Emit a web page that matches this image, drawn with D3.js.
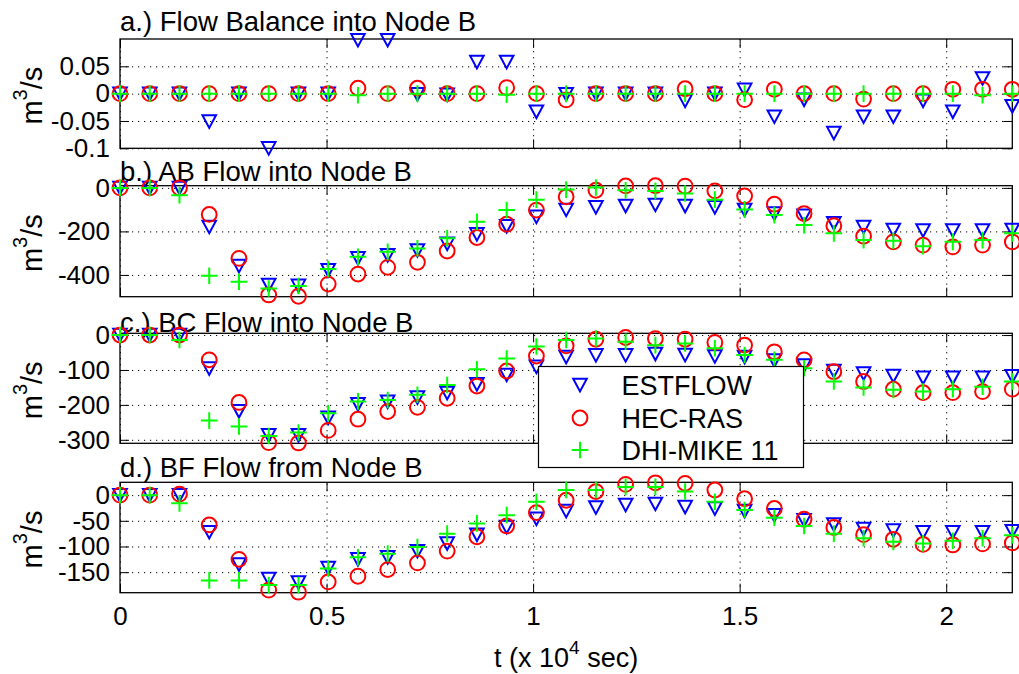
<!DOCTYPE html>
<html>
<head>
<meta charset="utf-8">
<script src="https://cdn.jsdelivr.net/npm/d3@7"></script>
<style>
  html, body { margin: 0; padding: 0; background: #fff; }
  svg { display: block; font-family: "Liberation Sans", Arial, Helvetica, sans-serif; }
</style>
</head>
<body>
<svg id="chart" width="1019" height="674"></svg>
<script>
// Sample times, in units of 10^4 s (one sample every 720 s)
const time = [0, 0.072, 0.144, 0.216, 0.288, 0.36, 0.432, 0.504, 0.576, 0.648, 0.72,
  0.792, 0.864, 0.936, 1.008, 1.08, 1.152, 1.224, 1.296, 1.368, 1.44,
  1.512, 1.584, 1.656, 1.728, 1.8, 1.872, 1.944, 2.016, 2.088, 2.16];

const modelNames = ["ESTFLOW", "HEC-RAS", "DHI-MIKE 11"];

const panelTitles = ["a.) Flow Balance into Node B", "b.) AB Flow into Node B",
  "c.) BC Flow into Node B", "d.) BF Flow from Node B"];

// a.) flow balance at node B (m^3/s)
const balanceEstflow = [0, 0, 0, -0.051, 0, -0.1, 0, 0, 0.098, 0.098, -0.001, -0.002, 0.058, 0.058, -0.033,
  -0.001, 0, 0, 0, -0.013, 0, 0.007, -0.042, -0.011, -0.072, -0.042, -0.042, -0.013, -0.033, 0.028, -0.023];
const balanceHecRas = [0, 0, 0, 0, 0, 0, 0, 0, 0.01, 0, 0.01, 0, 0, 0.011, 0,
  -0.0115, 0, 0, 0, 0.009, 0, -0.011, 0.008, 0, 0, -0.01, 0, 0, 0.008, 0.008, 0.008];
const balanceMike = [0, 0, 0, 0, 0, 0, 0, 0, -0.003, 0, 0, 0, 0, -0.002, 0,
  0, 0, 0, 0, 0, 0, 0, 0, 0, 0, 0, 0, 0, 0, -0.003, 0];

// b.) AB flow into node B
const abEstflow = [0, 0, 0, -179, -359, -446, -450, -378, -323, -309, -287, -257, -213, -176, -133,
  -101, -89, -83, -78, -83, -89, -101, -118, -128, -162, -180, -193, -196, -196, -196, -193];
const abHecRas = [0, 0, 0, -122, -324, -492, -498, -442, -396, -365, -342, -290, -228, -167, -102,
  -41, -11, 9, 10, 8, -14, -37, -75, -118, -174, -222, -248, -263, -271, -263, -248];
const abMike = [0, 0, -34, -404, -431, -462, -451, -373, -317, -294, -278, -232, -156, -102, -54,
  -8, 2, -11, -14, -26, -54, -99, -125, -171, -209, -240, -243, -268, -248, -240, -209];

// c.) BC flow into node B
const bcEstflow = [0, 0, 0, -96, -218, -287, -287, -237, -198, -191, -179, -166, -141, -114, -91,
  -63, -58, -58, -54, -57, -61, -63, -73, -87, -103, -110, -117, -122, -122, -122, -118];
const bcHecRas = [0, 0, 0, -71, -193, -308, -309, -273, -241, -219, -207, -181, -146, -103, -60,
  -31, -12, -7, -10, -12, -21, -29, -48, -71, -105, -133, -155, -165, -165, -162, -155];
const bcMike = [0, 0, -14, -245, -262, -289, -279, -224, -190, -186, -171, -143, -98, -67, -33,
  -14, -10, -19, -29, -24, -38, -57, -71, -95, -133, -150, -157, -162, -155, -148, -133];

// d.) BF flow from node B
const bfEstflow = [0, 0, 0, -72, -135, -163, -170, -142, -125, -121, -109, -94, -77, -62, -46,
  -31, -24, -19, -17, -23, -26, -31, -39, -49, -57, -66, -69, -72, -72, -72, -70];
const bfHecRas = [0, 0, 2, -58, -125, -185, -189, -169, -158, -145, -132, -109, -81, -60, -34,
  -10, 7, 21, 24, 23, 10, -7, -26, -47, -63, -77, -86, -96, -97, -95, -93];
const bfMike = [0, 0, -16, -166, -166, -175, -175, -143, -121, -114, -101, -75, -55, -39, -13,
  10, 10, 16, 16, 7, -13, -29, -44, -60, -75, -84, -91, -94, -89, -84, -78];

// Axis limits and ticks
const xDomain = [0, 2.16];
const xTicks = [0, 0.5, 1, 1.5, 2];
const xTickLabels = ["0", "0.5", "1", "1.5", "2"];

const yDomains = [[-0.1, 0.1], [-500, 10], [-310, 5], [-190, 25]];
const yTicks = [[-0.1, -0.05, 0, 0.05], [-400, -200, 0], [-300, -200, -100, 0], [-150, -100, -50, 0]];
const yTickLabels = [["-0.1", "-0.05", "0", "0.05"], ["-400", "-200", "0"],
  ["-300", "-200", "-100", "0"], ["-150", "-100", "-50", "0"]];

const panelSeries = [
  [balanceEstflow, balanceHecRas, balanceMike],
  [abEstflow, abHecRas, abMike],
  [bcEstflow, bcHecRas, bcMike],
  [bfEstflow, bfHecRas, bfMike]
];

// ---- layout ----
const plotLeft = 120, plotRight = 1012.3;
const panelBox = [[39, 148.3], [185.7, 296.7], [333.3, 443.3], [482.3, 592.7]];
const titleBaseline = [30.7, 180.7, 331.7, 477.3];
const tickLen = 9;
const colors = ["#0000ff", "#ff0000", "#00ff00"];

const svg = d3.select("#chart");
const x = d3.scaleLinear().domain(xDomain).range([plotLeft, plotRight]);

// marker shapes: down triangle, circle, plus
function drawMarker(sel, kind, color) {
  if (kind === 0) {
    sel.append("path").attr("d", "M-6.8,-6.2L6.8,-6.2L0,6.4Z")
      .attr("fill", "none").attr("stroke", color).attr("stroke-width", 2).attr("stroke-linejoin", "miter");
  } else if (kind === 1) {
    sel.append("circle").attr("r", 7.4)
      .attr("fill", "none").attr("stroke", color).attr("stroke-width", 2);
  } else {
    sel.append("path").attr("d", "M-8.3,0H8.3M0,-8.3V8.3")
      .attr("fill", "none").attr("stroke", color).attr("stroke-width", 2);
  }
}

panelSeries.forEach((series, p) => {
  const [top, bottom] = panelBox[p];
  const y = d3.scaleLinear().domain(yDomains[p]).range([bottom, top]);
  const g = svg.append("g");

  // dotted grid
  const grid = g.append("g").attr("class", "grid");
  grid.append("g").attr("transform", `translate(${plotLeft},0)`)
    .call(d3.axisLeft(y).tickValues(yTicks[p]).tickSize(-(plotRight - plotLeft)).tickFormat(""));
  grid.append("g").attr("transform", `translate(0,${bottom})`)
    .call(d3.axisBottom(x).tickValues(xTicks).tickSize(-(bottom - top)).tickFormat(""));
  grid.selectAll(".domain").remove();
  grid.selectAll("line").attr("stroke", "#000").attr("stroke-width", 1)
    .attr("stroke-dasharray", "1.2,4.8");

  // axes with inward ticks
  const yl = g.append("g").attr("transform", `translate(${plotLeft},0)`)
    .call(d3.axisLeft(y).tickValues(yTicks[p]).tickSizeInner(-tickLen).tickSizeOuter(0)
      .tickPadding(10).tickFormat((d, i) => yTickLabels[p][i]));
  const yr = g.append("g").attr("transform", `translate(${plotRight},0)`)
    .call(d3.axisRight(y).tickValues(yTicks[p]).tickSizeInner(-tickLen).tickSizeOuter(0).tickFormat(""));
  const xt = g.append("g").attr("transform", `translate(0,${top})`)
    .call(d3.axisTop(x).tickValues(xTicks).tickSizeInner(-tickLen).tickSizeOuter(0).tickFormat(""));
  const xb = g.append("g").attr("transform", `translate(0,${bottom})`)
    .call(d3.axisBottom(x).tickValues(xTicks).tickSizeInner(-tickLen).tickSizeOuter(0)
      .tickPadding(14).tickFormat((d, i) => p === 3 ? xTickLabels[i] : ""));
  [yl, yr, xt, xb].forEach(a => {
    a.selectAll(".domain").remove();
    a.selectAll("line").attr("stroke", "#000").attr("stroke-width", 1);
    a.selectAll("text").attr("fill", "#000").attr("font-size", 26)
      .attr("font-family", '"Liberation Sans", Arial, sans-serif');
  });

  // axes box
  g.append("rect").attr("x", plotLeft).attr("y", top)
    .attr("width", plotRight - plotLeft).attr("height", bottom - top)
    .attr("fill", "none").attr("stroke", "#000").attr("stroke-width", 1.3);

  // title
  g.append("text").attr("x", plotLeft).attr("y", titleBaseline[p])
    .attr("font-size", 27.5).attr("fill", "#000").text(panelTitles[p]);

  // y label m^3/s
  const cy = (top + bottom) / 2 + 2;
  const yl2 = g.append("text").attr("transform", `translate(42,${cy}) rotate(-90)`)
    .attr("text-anchor", "middle").attr("font-size", 29).attr("fill", "#000");
  yl2.append("tspan").text("m");
  yl2.append("tspan").attr("font-size", 20).attr("dy", -15).text("3");
  yl2.append("tspan").attr("dy", 15).text("/s");

  // data markers, one layer per model
  series.forEach((vals, m) => {
    const layer = g.append("g");
    vals.forEach((v, i) => {
      const mk = layer.append("g").attr("transform", `translate(${x(time[i])},${y(v)})`);
      drawMarker(mk, m, colors[m]);
    });
  });
});

// x label
const xl = svg.append("text").attr("x", (plotLeft + plotRight) / 2).attr("y", 667)
  .attr("text-anchor", "middle").attr("font-size", 27).attr("fill", "#000");
xl.append("tspan").text("t (x 10");
xl.append("tspan").attr("font-size", 19).attr("dy", -13).text("4");
xl.append("tspan").attr("dy", 13).text(" sec)");

// legend
const lg = svg.append("g");
lg.append("rect").attr("x", 538.5).attr("y", 366.5).attr("width", 265).attr("height", 101)
  .attr("fill", "#fff").attr("stroke", "#000").attr("stroke-width", 1.2);
const legendY = [385, 418, 450];
modelNames.forEach((name, m) => {
  const mk = lg.append("g").attr("transform", `translate(580,${legendY[m]})`);
  drawMarker(mk, m, colors[m]);
  lg.append("text").attr("x", 621.5).attr("y", legendY[m]).attr("dy", "0.36em")
    .attr("font-size", 27).attr("fill", "#000").text(name);
});
</script>
</body>
</html>
